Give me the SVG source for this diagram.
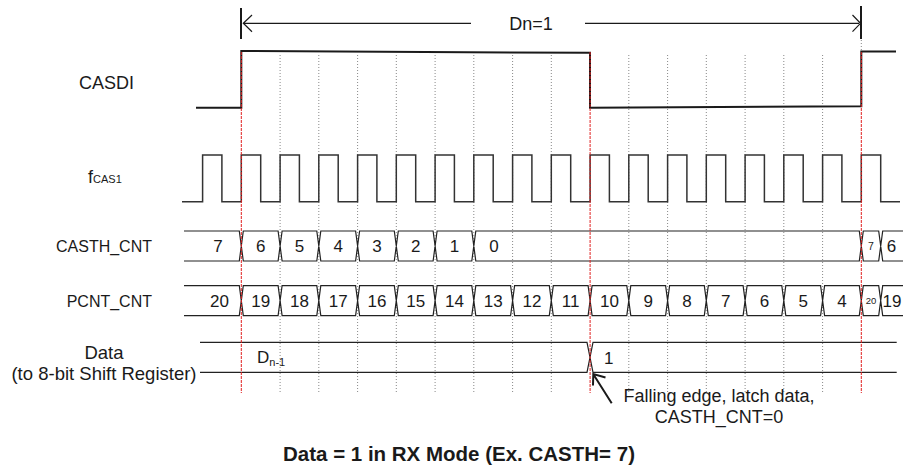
<svg xmlns="http://www.w3.org/2000/svg" width="904" height="469" viewBox="0 0 904 469">
<style>
text{font-family:"Liberation Sans",Arial,sans-serif;fill:#1a1a1a}
.lbl{font-size:18px}
.dlbl{font-size:18.5px}
.blbl{font-size:16px}
.val{font-size:17px}
.num{font-size:17px;text-anchor:middle}
.tiny7{font-size:10.5px;text-anchor:middle}
.tiny20{font-size:9.5px;text-anchor:middle}
.sub{font-size:11px}
.title{font-size:20.5px;font-weight:bold;text-anchor:middle}
.grid{stroke:#888;stroke-width:1;stroke-dasharray:1 2;fill:none}
.red{stroke:#e02020;stroke-width:1;stroke-dasharray:3 1;fill:none}
.sig{stroke:#1a1a1a;stroke-width:2;fill:none}
.clk{stroke:#333;stroke-width:1.5;fill:none}
.bus{stroke:#222;stroke-width:1.2;fill:none}
.arr{stroke:#1a1a1a;stroke-width:1.2;fill:none}
</style>
<rect width="904" height="469" fill="#fff"/>
<g id="grid">
<path class="grid" d="M280.1,55V393M318.8,55V393M357.6,55V393M396.3,55V393M435.1,55V393M473.8,55V393M512.6,55V393M551.3,55V393M628.8,55V393M667.6,55V393M706.3,55V393M745.1,55V393M783.8,55V393M822.6,55V393M861.3,40V52"/>
</g>
<g id="dn-span">
<path class="sig" d="M241,8V39M861,6V39"/>
<path class="arr" d="M243,23.3H471M252,15L243.3,23.3L252,31.7M585,23.3H859M852.5,15L860.5,23.3L852.5,31.7"/>
<text class="lbl" x="531" y="30" text-anchor="middle">Dn=1</text>
</g>
<g id="casdi">
<text class="lbl" x="106.5" y="89" text-anchor="middle">CASDI</text>
<path class="sig" d="M196,107.7H241.3V51L590,52.8V107.7L861.3,106.3V51.5H896"/>
</g>
<g id="fcas1">
<text class="lbl" x="88" y="183">f<tspan class="sub">CAS1</tspan></text>
<path class="clk" d="M182,201.7H202.6V155H221.9V201.7H241.3V155H260.7V201.7H280.1V155H299.4V201.7H318.8V155H338.2V201.7H357.6V155H376.9V201.7H396.3V155H415.7V201.7H435.1V155H454.4V201.7H473.8V155H493.2V201.7H512.6V155H531.9V201.7H551.3V155H570.7V201.7H590.1V155H609.4V201.7H628.8V155H648.2V201.7H667.6V155H686.9V201.7H706.3V155H725.7V201.7H745.1V155H764.4V201.7H783.8V155H803.2V201.7H822.6V155H841.9V201.7H861.3V155H880.7V201.7H900"/>
</g>
<g id="casth-cnt">
<text class="blbl" x="152" y="252" text-anchor="end">CASTH_CNT</text>
<path class="bus" d="M184,231H239.3L243.3,261H278.1L282.1,231H316.8L320.8,261H355.6L359.6,231H394.3L398.3,261H433.1L437.1,231H471.8L475.8,261H859.3L863.3,231H878.7L882.7,261H903M184,261H239.3L243.3,231H278.1L282.1,261H316.8L320.8,231H355.6L359.6,261H394.3L398.3,231H433.1L437.1,261H471.8L475.8,231H859.3L863.3,261H878.7L882.7,231H903"/>
<text class="num" x="218" y="252">7</text>
<text class="num" x="260.7" y="252">6</text>
<text class="num" x="299.4" y="252">5</text>
<text class="num" x="338.2" y="252">4</text>
<text class="num" x="376.9" y="252">3</text>
<text class="num" x="415.7" y="252">2</text>
<text class="num" x="454.4" y="252">1</text>
<text class="num" x="494" y="252">0</text>
<text class="tiny7" x="871" y="250">7</text>
<text class="num" x="891.5" y="252">6</text>
</g>
<g id="pcnt-cnt">
<text class="blbl" x="152" y="306.5" text-anchor="end">PCNT_CNT</text>
<path class="bus" d="M184,285.7H239.3L243.3,315.7H278.1L282.1,285.7H316.8L320.8,315.7H355.6L359.6,285.7H394.3L398.3,315.7H433.1L437.1,285.7H471.8L475.8,315.7H510.6L514.6,285.7H549.3L553.3,315.7H588.1L592.1,285.7H626.8L630.8,315.7H665.6L669.6,285.7H704.3L708.3,315.7H743.1L747.1,285.7H781.8L785.8,315.7H820.6L824.6,285.7H859.3L863.3,315.7H878.7L882.7,285.7H903M184,315.7H239.3L243.3,285.7H278.1L282.1,315.7H316.8L320.8,285.7H355.6L359.6,315.7H394.3L398.3,285.7H433.1L437.1,315.7H471.8L475.8,285.7H510.6L514.6,315.7H549.3L553.3,285.7H588.1L592.1,315.7H626.8L630.8,285.7H665.6L669.6,315.7H704.3L708.3,285.7H743.1L747.1,315.7H781.8L785.8,285.7H820.6L824.6,315.7H859.3L863.3,285.7H878.7L882.7,315.7H903"/>
<text class="num" x="219.5" y="306.7">20</text>
<text class="num" x="260.7" y="306.7">19</text>
<text class="num" x="299.4" y="306.7">18</text>
<text class="num" x="338.2" y="306.7">17</text>
<text class="num" x="376.9" y="306.7">16</text>
<text class="num" x="415.7" y="306.7">15</text>
<text class="num" x="454.4" y="306.7">14</text>
<text class="num" x="493.2" y="306.7">13</text>
<text class="num" x="531.9" y="306.7">12</text>
<text class="num" x="570.7" y="306.7">11</text>
<text class="num" x="609.4" y="306.7">10</text>
<text class="num" x="648.2" y="306.7">9</text>
<text class="num" x="686.9" y="306.7">8</text>
<text class="num" x="725.7" y="306.7">7</text>
<text class="num" x="764.4" y="306.7">6</text>
<text class="num" x="803.2" y="306.7">5</text>
<text class="num" x="841.9" y="306.7">4</text>
<text class="tiny20" x="871" y="304">20</text>
<text class="num" x="892" y="306.7">19</text>
</g>
<g id="data">
<text class="dlbl" x="104" y="359" text-anchor="middle">Data</text>
<text class="dlbl" x="104" y="380" text-anchor="middle">(to 8-bit Shift Register)</text>
<path class="bus" d="M200,342.3H587L593,372.3H896.7M200,372.3H587L593,342.3H896.7"/>
<text class="val" x="257" y="363">D<tspan class="sub" dy="3">n-1</tspan></text>
<text class="val" x="604" y="364">1</text>
</g>
<g id="red-markers">
<path class="red" d="M241.3,52V393M590.1,52V393M861.3,52V393"/>
</g>
<g id="connectors">
<path class="sig" d="M611.7,403.3L593.5,374.5M593,385.5L593.3,374L605.5,377.5"/>
</g>
<g id="note">
<text class="lbl" x="719" y="401.5" text-anchor="middle">Falling edge, latch data,</text>
<text class="lbl" x="719" y="423" text-anchor="middle">CASTH_CNT=0</text>
</g>
<text class="title" x="459" y="461">Data = 1 in RX Mode (Ex. CASTH= 7)</text>
</svg>
